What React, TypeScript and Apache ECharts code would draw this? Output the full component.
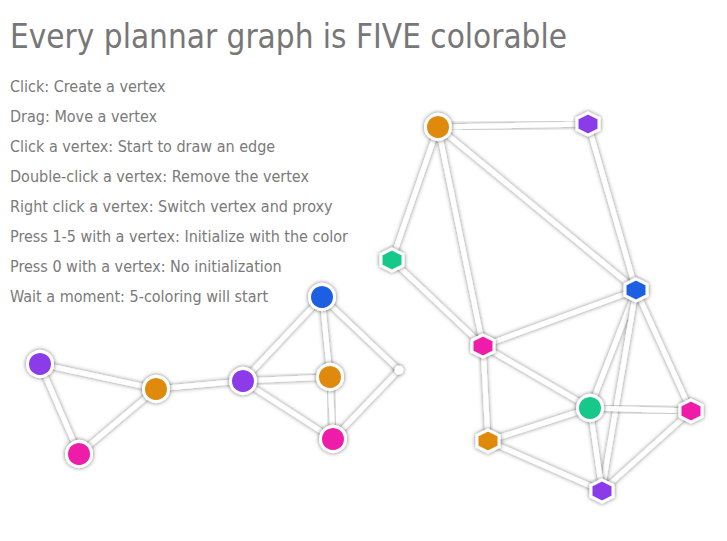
import React, { useEffect, useRef } from 'react';
import * as echarts from 'echarts';

const titleText = 'Every plannar graph is FIVE colorable';
const helpLines = [
    'Click: Create a vertex',
    'Drag: Move a vertex',
    'Click a vertex: Start to draw an edge',
    'Double-click a vertex: Remove the vertex',
    'Right click a vertex: Switch vertex and proxy',
    'Press 1-5 with a vertex: Initialize with the color',
    'Press 0 with a vertex: No initialization',
    'Wait a moment: 5-coloring will start',
];

const palette: Record<string, string> = {
    purple: '#8b3ae8',
    pink: '#ee1aa9',
    orange: '#df8a0c',
    blue: '#1f5fe2',
    green: '#16c98b',
    none: '#ffffff',
};

const nodeNames = ['A', 'B', 'C', 'D', 'E', 'F', 'G', 'H', 'I', 'J', 'K', 'L', 'M', 'N', 'O', 'P', 'Q'];
const nodeX = [40, 79, 156, 243, 322, 330, 333, 399, 438, 588, 392, 636, 483, 590, 691, 488, 602];
const nodeY = [364, 454, 389, 381, 297, 377, 439, 370, 127, 124, 260, 290, 346, 408, 411, 441, 491];
const nodeShape = ['circle', 'circle', 'circle', 'circle', 'circle', 'circle', 'circle', 'point', 'circle', 'hex', 'hex', 'hex', 'hex', 'circle', 'hex', 'hex', 'hex'];
const nodeColor = ['purple', 'pink', 'orange', 'purple', 'blue', 'orange', 'pink', 'none', 'orange', 'purple', 'green', 'blue', 'pink', 'green', 'pink', 'orange', 'purple'];

const edges = [
    ['A', 'B'], ['A', 'C'], ['B', 'C'], ['C', 'D'], ['D', 'E'], ['D', 'F'], ['D', 'G'],
    ['E', 'F'], ['E', 'H'], ['F', 'G'], ['G', 'H'],
    ['I', 'J'], ['I', 'K'], ['I', 'M'], ['I', 'L'], ['J', 'L'], ['K', 'M'], ['M', 'L'],
    ['M', 'P'], ['M', 'N'], ['L', 'N'], ['L', 'O'], ['L', 'Q'], ['N', 'O'], ['N', 'P'],
    ['N', 'Q'], ['P', 'Q'], ['O', 'Q'],
];

const hexPath = 'path://M0,-10L8.66,-5L8.66,5L0,10L-8.66,5L-8.66,-5Z';

export default function App() {
    const chartRef = useRef<HTMLDivElement>(null);

    useEffect(() => {
        if (!chartRef.current) return;
        const myChart = echarts.init(chartRef.current, null, { renderer: 'svg' });

        const data = nodeNames.map((name, i) => {
            const shape = nodeShape[i];
            return {
                name,
                value: [nodeX[i], nodeY[i]],
                symbol: shape === 'hex' ? hexPath : 'circle',
                symbolSize: shape === 'hex' ? 22 : shape === 'point' ? 9 : 25,
                itemStyle: {
                    color: palette[nodeColor[i]],
                    borderColor: '#ffffff',
                    borderWidth: shape === 'point' ? 0 : 3,
                    shadowBlur: 4,
                    shadowColor: 'rgba(0,0,0,0.55)',
                },
            };
        });

        const font = '"DejaVu Sans Condensed", "Liberation Sans Narrow", sans-serif';

        const option = {
            animation: false,
            grid: { left: 0, right: 0, top: 0, bottom: 0 },
            xAxis: { type: 'value', min: 0, max: 727, show: false },
            yAxis: { type: 'value', min: 0, max: 541, inverse: true, show: false },
            graphic: [
                {
                    type: 'text', left: 10, top: 20,
                    style: { text: titleText, fill: '#777777', font: `300 33px ${font}` },
                },
                ...helpLines.map((t, i) => ({
                    type: 'text', left: 10, top: 78 + i * 30,
                    style: { text: t, fill: '#7a7a7a', font: `16px ${font}` },
                })),
            ],
            series: [
                {
                    type: 'graph',
                    coordinateSystem: 'cartesian2d',
                    data,
                    links: edges.map(([s, t]) => ({ source: s, target: t })),
                    lineStyle: {
                        color: '#ffffff',
                        width: 5,
                        opacity: 1,
                        curveness: 0,
                        shadowBlur: 4,
                        shadowColor: 'rgba(0,0,0,0.5)',
                    },
                    label: { show: false },
                    emphasis: { disabled: true },
                    z: 2,
                },
            ],
        };

        myChart.setOption(option);
        return () => myChart.dispose();
    }, []);

    return <div ref={chartRef} style={{ position: 'absolute', left: 0, top: 0, width: '727px', height: '541px' }} />;
}
